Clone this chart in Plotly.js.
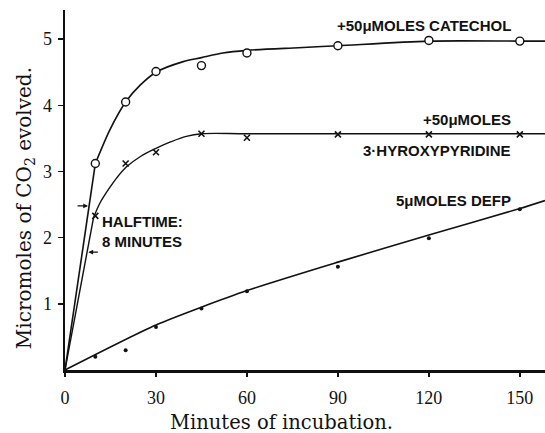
<!DOCTYPE html>
<html>
<head>
<meta charset="utf-8">
<script src="https://cdn.plot.ly/plotly-3.0.1.min.js"></script>
<style>html,body{margin:0;padding:0;background:#fff;}#chart{width:545px;height:433px;}</style>
</head>
<body>
<div id="chart"></div>
<script>
// Measured points
const catecholX = [10, 20, 30, 45, 60, 90, 120, 150];
const catecholY = [3.12, 4.05, 4.51, 4.60, 4.79, 4.90, 4.98, 4.97];
const hydroxyX = [10, 20, 30, 45, 60, 90, 120, 150];
const hydroxyY = [2.33, 3.12, 3.29, 3.57, 3.51, 3.56, 3.56, 3.56];
const defpX = [10, 20, 30, 45, 60, 90, 120, 150];
const defpY = [0.20, 0.30, 0.65, 0.93, 1.19, 1.56, 1.99, 2.43];

// Drawn (fitted) curves
const catecholCurveX = [0, 10, 14.8, 20, 24.7, 30, 39, 45, 52, 60, 77, 90, 120, 150, 158.3];
const catecholCurveY = [0, 3.12, 3.63, 4.05, 4.30, 4.50, 4.66, 4.72, 4.79, 4.83, 4.87, 4.90, 4.97, 4.97, 4.97];
const hydroxyCurveX = [0, 9.4, 11.5, 14.8, 17, 20.3, 25, 30, 35, 40, 45, 60, 90, 120, 150, 158.3];
const hydroxyCurveY = [0, 2.30, 2.52, 2.76, 2.90, 3.07, 3.23, 3.35, 3.45, 3.53, 3.57, 3.57, 3.57, 3.57, 3.57, 3.57];
const defpCurveX = [0, 30, 60, 90, 120, 150, 158.3];
const defpCurveY = [0, 0.68, 1.20, 1.63, 2.04, 2.44, 2.56];

// Axis ticks
const xTicks = [0, 30, 60, 90, 120, 150];
const yTicks = [1, 2, 3, 4, 5];

// Labels
const xTitle = 'Minutes of incubation.';
const yTitle = 'Micromoles of CO<sub>2</sub> evolved.';
const seriesLabels = ['+50\u03bcMOLES CATECHOL', '+50\u03bcMOLES', '3\u00b7HYROXYPYRIDINE', '5\u03bcMOLES DEFP'];
const labelX = [147.7, 147.7, 147.7, 147.7];
const labelY = [5.21, 3.79, 3.31, 2.56];
const halftimeText = 'HALFTIME:<br>8 MINUTES';
const halftimeArrowX = [7.6, 7.7];
const halftimeArrowY = [2.48, 1.78];

const black = '#111';
const traces = [
  {x: catecholCurveX.slice(0, 2), y: catecholCurveY.slice(0, 2), mode: 'lines', line: {color: black, width: 1.6}, hoverinfo: 'skip'},
  {x: catecholCurveX.slice(1), y: catecholCurveY.slice(1), mode: 'lines', line: {color: black, width: 1.6, shape: 'spline', smoothing: 0.8}, hoverinfo: 'skip'},
  {x: hydroxyCurveX.slice(0, 2), y: hydroxyCurveY.slice(0, 2), mode: 'lines', line: {color: black, width: 1.4}, hoverinfo: 'skip'},
  {x: hydroxyCurveX.slice(1), y: hydroxyCurveY.slice(1), mode: 'lines', line: {color: black, width: 1.4, shape: 'spline', smoothing: 1}, hoverinfo: 'skip'},
  {x: defpCurveX, y: defpCurveY, mode: 'lines', line: {color: black, width: 1.6, shape: 'spline', smoothing: 0.6}, hoverinfo: 'skip'},
  {x: catecholX, y: catecholY, mode: 'markers', marker: {symbol: 'circle', size: 8, color: '#fff', line: {color: black, width: 1.4}}, cliponaxis: false},
  {x: hydroxyX, y: hydroxyY, mode: 'markers', marker: {symbol: 'x-thin-open', size: 6, color: black, line: {color: black, width: 1.6}}, cliponaxis: false},
  {x: defpX, y: defpY, mode: 'markers', marker: {symbol: 'circle', size: 4, color: black}, cliponaxis: false}
];

const lblFont = {family: 'Liberation Sans, Arial, sans-serif', size: 15, color: black, weight: 'bold'};
const titleFont = {family: 'DejaVu Serif, serif', size: 19.5, color: black};
const annotations = seriesLabels.map((t, i) => ({
  x: labelX[i], y: labelY[i], xref: 'x', yref: 'y', text: t, showarrow: false,
  xanchor: 'right', yanchor: 'middle', font: lblFont
}));
annotations.push({x: 11.4, y: 2.10, xref: 'x', yref: 'y', text: halftimeText, showarrow: false,
  xanchor: 'left', yanchor: 'middle', align: 'left', font: lblFont});
annotations.push({x: halftimeArrowX[0], y: halftimeArrowY[0], xref: 'x', yref: 'y', text: '', showarrow: true,
  ax: -12, ay: 0, arrowhead: 2, arrowsize: 0.8, arrowwidth: 1.2, arrowcolor: black});
annotations.push({x: halftimeArrowX[1], y: halftimeArrowY[1], xref: 'x', yref: 'y', text: '', showarrow: true,
  ax: 11, ay: 0, arrowhead: 2, arrowsize: 0.8, arrowwidth: 1.2, arrowcolor: black});
annotations.push({x: 0.45, y: -0.147, xref: 'paper', yref: 'paper', text: xTitle, showarrow: false,
  xanchor: 'center', yanchor: 'middle', font: titleFont});
annotations.push({x: -0.083, y: 0.45, xref: 'paper', yref: 'paper', text: yTitle, showarrow: false,
  textangle: -90, xanchor: 'center', yanchor: 'middle', font: {family: 'DejaVu Serif, serif', size: 20, color: black}});

const serif = 'Liberation Serif, Times New Roman, serif';
const layout = {
  width: 545, height: 433,
  margin: {l: 65, r: 0, t: 10, b: 63},
  paper_bgcolor: '#fff', plot_bgcolor: '#fff',
  showlegend: false,
  xaxis: {
    range: [0, 158.3], showgrid: false, zeroline: false,
    showline: true, linecolor: black, linewidth: 2.5,
    ticks: 'outside', ticklen: 4, tickwidth: 1.5, tickcolor: black,
    tickvals: xTicks, ticktext: xTicks.map(String),
    tickfont: {family: serif, size: 18, color: black},
    ticklabelstandoff: 6
  },
  yaxis: {
    range: [0, 5.44], showgrid: false, zeroline: false,
    showline: true, linecolor: black, linewidth: 2.5,
    ticks: 'outside', ticklen: 5, tickwidth: 1.5, tickcolor: black,
    tickvals: yTicks, ticktext: yTicks.map(String),
    tickfont: {family: serif, size: 18, color: black},
    ticklabelstandoff: 2
  },
  annotations: annotations
};

Plotly.newPlot('chart', traces, layout, {staticPlot: true, displayModeBar: false});
</script>
</body>
</html>
